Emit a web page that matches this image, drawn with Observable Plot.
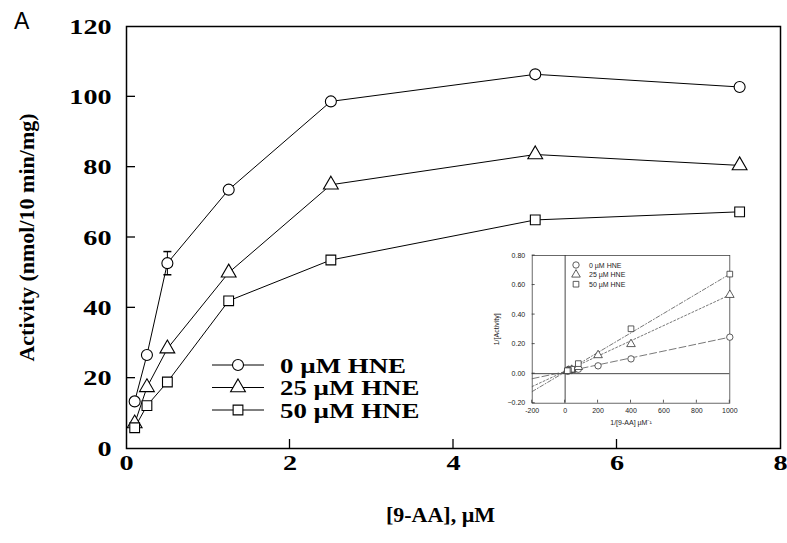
<!DOCTYPE html>
<html><head><meta charset="utf-8">
<script src="https://cdn.jsdelivr.net/npm/d3@7"></script>
<script src="https://cdn.jsdelivr.net/npm/@observablehq/plot@0.6"></script>
<style>
body{margin:0;background:#fff;}
#wrap{position:relative;width:787px;height:543px;}
#wrap > svg{position:absolute;}
</style></head><body><div id="wrap"></div>
<script>
// ---- main panel data ----
const concentration = [0.1, 0.25, 0.5, 1.25, 2.5, 5, 7.5];
const activity0 = [13.4, 26.6, 52.7, 73.6, 98.7, 106.4, 102.8];
const activity25 = [7.1, 17.4, 28.4, 50.0, 75.0, 83.6, 80.5];
const activity50 = [5.9, 12.2, 18.9, 42.0, 53.6, 65.0, 67.3];
const errX = [0.5];
const errLow = [49.4];
const errHigh = [56.0];
const seriesNames = ["0 µM HNE", "25 µM HNE", "50 µM HNE"];
const seriesSymbols = ["circle", "triangle", "square"];
const xTicks = [0, 2, 4, 6, 8];
const yTicks = [0, 20, 40, 60, 80, 100, 120];
const xInnerTicks = [2, 4, 6];
const yInnerTicks = [20, 40, 60, 80, 100];

// ---- inset (double reciprocal) data ----
const recipX = [1000, 400, 200, 80, 40, 20, 13.3];
const recip0 = [0.247, 0.100, 0.053, 0.030, 0.022, 0.018, 0.017];
const recip25x = [1000, 400, 200, 80, 40, 20, 13.3];
const recip25 = [0.533, 0.200, 0.125, 0.045, 0.026, 0.020, 0.018];
const recip50x = [1000, 400, 80, 40, 20, 13.3];
const recip50 = [0.674, 0.304, 0.068, 0.030, 0.022, 0.020];
const fitX = [-200, 1000];
const fit0 = [-0.034, 0.247];
const fit25 = [-0.087, 0.533];
const fit50 = [-0.121, 0.674];
const insetXTicks = [-200, 0, 200, 400, 600, 800, 1000];
const insetYTicks = [-0.2, 0, 0.2, 0.4, 0.6, 0.8];

const toRows = (xs, ys) => xs.map((x, i) => ({x, y: ys[i]}));
const main = [toRows(concentration, activity0), toRows(concentration, activity25), toRows(concentration, activity50)];
const errRows = errX.map((x, i) => ({x, lo: errLow[i], hi: errHigh[i]}));
const capSymbol = {draw(ctx, size) { const w = Math.sqrt(size / Math.PI); ctx.moveTo(-w, 0); ctx.lineTo(w, 0); }};

const wrap = document.getElementById("wrap");

// layout
const W = 787, H = 543, mL = 126, mR = 7, mT = 26, mB = 95, tickLen = 9;

const mainPlot = Plot.plot({
  width: W, height: H,
  marginLeft: mL, marginRight: mR, marginTop: mT, marginBottom: mB,
  style: {fontFamily: "'Liberation Serif', serif", fontSize: "22px", fontWeight: "bold", background: "transparent", color: "black"},
  x: {domain: [0, 8]},
  y: {domain: [0, 120]},
  marks: [
    Plot.frame({stroke: "black", strokeWidth: 1.5}),
    Plot.axisY({ticks: yTicks, tickSize: 0, tickPadding: 15, tickFormat: d => String(d), label: "Activity (nmol/10 min/mg)", labelAnchor: "center", labelOffset: 108, labelArrow: "none"}),
    Plot.axisX({ticks: xTicks, tickSize: 0, tickPadding: 6, tickFormat: d => String(d), label: null}),
    Plot.text(["[9-AA], µM"], {frameAnchor: "bottom", dy: 73, dx: -13, fontSize: 22}),
    ...main.map(rows => Plot.line(rows, {x: "x", y: "y", stroke: "black", strokeWidth: 1})),
    Plot.ruleX(errRows, {x: "x", y1: "lo", y2: "hi", stroke: "black", strokeWidth: 1}),
    Plot.dot(errRows, {x: "x", y: "hi", symbol: capSymbol, r: 4, stroke: "black", fill: "none"}),
    Plot.dot(errRows, {x: "x", y: "lo", symbol: capSymbol, r: 4, stroke: "black", fill: "none"}),
    ...main.map((rows, i) => Plot.dot(rows, {x: "x", y: "y", symbol: seriesSymbols[i], r: 5.5, fill: "white", stroke: "black", strokeWidth: 1.1}))
  ]
});
mainPlot.style.left = "0px"; mainPlot.style.top = "0px";
wrap.appendChild(mainPlot);
// widen the tick numerals like the reference's broad typeface
d3.select(mainPlot).selectAll('g[aria-label$="tick label"] text').each(function() {
  const t = this.textContent;
  if (!t) return;
  const w = this.getComputedTextLength();
  this.setAttribute("textLength", (w * 1.28).toFixed(1));
  this.setAttribute("lengthAdjust", "spacingAndGlyphs");
});

const insetRows = [toRows(recipX, recip0), toRows(recip25x, recip25), toRows(recip50x, recip50)];
const fits = [toRows(fitX, fit0), toRows(fitX, fit25), toRows(fitX, fit50)];
const dashes = ["7,3", "2,2", "4,2,1,2"];

const iW = 260, iH = 200, iL = 51.7, iR = 10.7, iT = 10, iB = 42.3, iTick = 3, iLeft = 480, iTop = 245;
const inset = Plot.plot({
  width: iW, height: iH,
  marginLeft: iL, marginRight: iR, marginTop: iT, marginBottom: iB,
  style: {fontFamily: "'Liberation Sans', sans-serif", fontSize: "7px", background: "transparent", color: "#222"},
  x: {domain: [-200, 1000]},
  y: {domain: [-0.2, 0.8]},
  marks: [
    Plot.frame({stroke: "#444", strokeWidth: 0.8}),
    Plot.ruleY([0], {stroke: "#333", strokeWidth: 0.9}),
    Plot.ruleX([0], {stroke: "#333", strokeWidth: 0.9}),
    Plot.axisY({ticks: insetYTicks, tickSize: 0, tickPadding: 7, tickFormat: d3.format(".2f"), label: "1/[Activity]", labelAnchor: "center", labelOffset: 38, labelArrow: "none"}),
    Plot.axisX({ticks: insetXTicks, tickSize: 0, tickPadding: 5, tickFormat: d => String(d), label: "1/[9-AA] µM⁻¹", labelAnchor: "center", labelOffset: 22, labelArrow: "none"}),
    ...fits.map((rows, i) => Plot.line(rows, {x: "x", y: "y", stroke: "#555", strokeWidth: 0.8, strokeDasharray: dashes[i]})),
    ...insetRows.map((rows, i) => Plot.dot(rows, {x: "x", y: "y", symbol: seriesSymbols[i], r: 3.2, fill: "white", stroke: "#333", strokeWidth: 0.8}))
  ]
});
inset.style.left = iLeft + "px"; inset.style.top = iTop + "px";
wrap.appendChild(inset);

// overlay: inward ticks (positioned with Plot's own scales), legends, panel letter
const ov = d3.select(wrap).append("svg").attr("width", W).attr("height", H).style("left", "0px").style("top", "0px").style("pointer-events", "none");
const sx = mainPlot.scale("x"), sy = mainPlot.scale("y");
const ix = inset.scale("x"), iy = inset.scale("y");
const tk = ov.append("g").attr("stroke", "black");
yInnerTicks.forEach(v => tk.append("line").attr("x1", mL).attr("x2", mL + tickLen).attr("y1", sy.apply(v)).attr("y2", sy.apply(v)).attr("stroke-width", 1.3));
xInnerTicks.forEach(v => tk.append("line").attr("y1", H - mB).attr("y2", H - mB - tickLen).attr("x1", sx.apply(v)).attr("x2", sx.apply(v)).attr("stroke-width", 1.3));
insetYTicks.forEach(v => tk.append("line").attr("x1", iLeft + iL).attr("x2", iLeft + iL + iTick).attr("y1", iTop + iy.apply(v)).attr("y2", iTop + iy.apply(v)).attr("stroke", "#333").attr("stroke-width", 0.8));
insetXTicks.forEach(v => tk.append("line").attr("y1", iTop + iH - iB).attr("y2", iTop + iH - iB - iTick).attr("x1", iLeft + ix.apply(v)).attr("x2", iLeft + ix.apply(v)).attr("stroke", "#333").attr("stroke-width", 0.8));

ov.append("text").attr("x", 14).attr("y", 29).attr("font-family", "'Liberation Sans', sans-serif").attr("font-size", 23).text("A");
const sym = (name, r) => d3.symbol(name === "circle" ? d3.symbolCircle : name === "triangle" ? d3.symbolTriangle : d3.symbolSquare, r * r * Math.PI)();
const lg = ov.append("g");
seriesNames.forEach((name, i) => {
  const y = 365 + i * 22.5;
  lg.append("line").attr("x1", 212).attr("x2", 264).attr("y1", y).attr("y2", y).attr("stroke", "black").attr("stroke-width", 1);
  lg.append("path").attr("d", sym(seriesSymbols[i], 5.5)).attr("transform", `translate(238,${y})`).attr("fill", "white").attr("stroke", "black").attr("stroke-width", 1.1);
  const t = lg.append("text").attr("x", 280).attr("y", y + 7.5).attr("font-family", "'Liberation Serif', serif").attr("font-weight", "bold").attr("font-size", 21).text(name);
  const w = t.node().getComputedTextLength();
  t.attr("textLength", (w * 1.28).toFixed(1)).attr("lengthAdjust", "spacingAndGlyphs");
});
const ilg = ov.append("g");
seriesNames.forEach((name, i) => {
  const y = 265 + i * 9.6;
  ilg.append("path").attr("d", sym(seriesSymbols[i], 3.2)).attr("transform", `translate(576,${y})`).attr("fill", "white").attr("stroke", "#333").attr("stroke-width", 0.8);
  ilg.append("text").attr("x", 589).attr("y", y + 2.5).attr("font-family", "'Liberation Sans', sans-serif").attr("font-size", 7).attr("fill", "#222").text(name);
});
</script></body></html>
